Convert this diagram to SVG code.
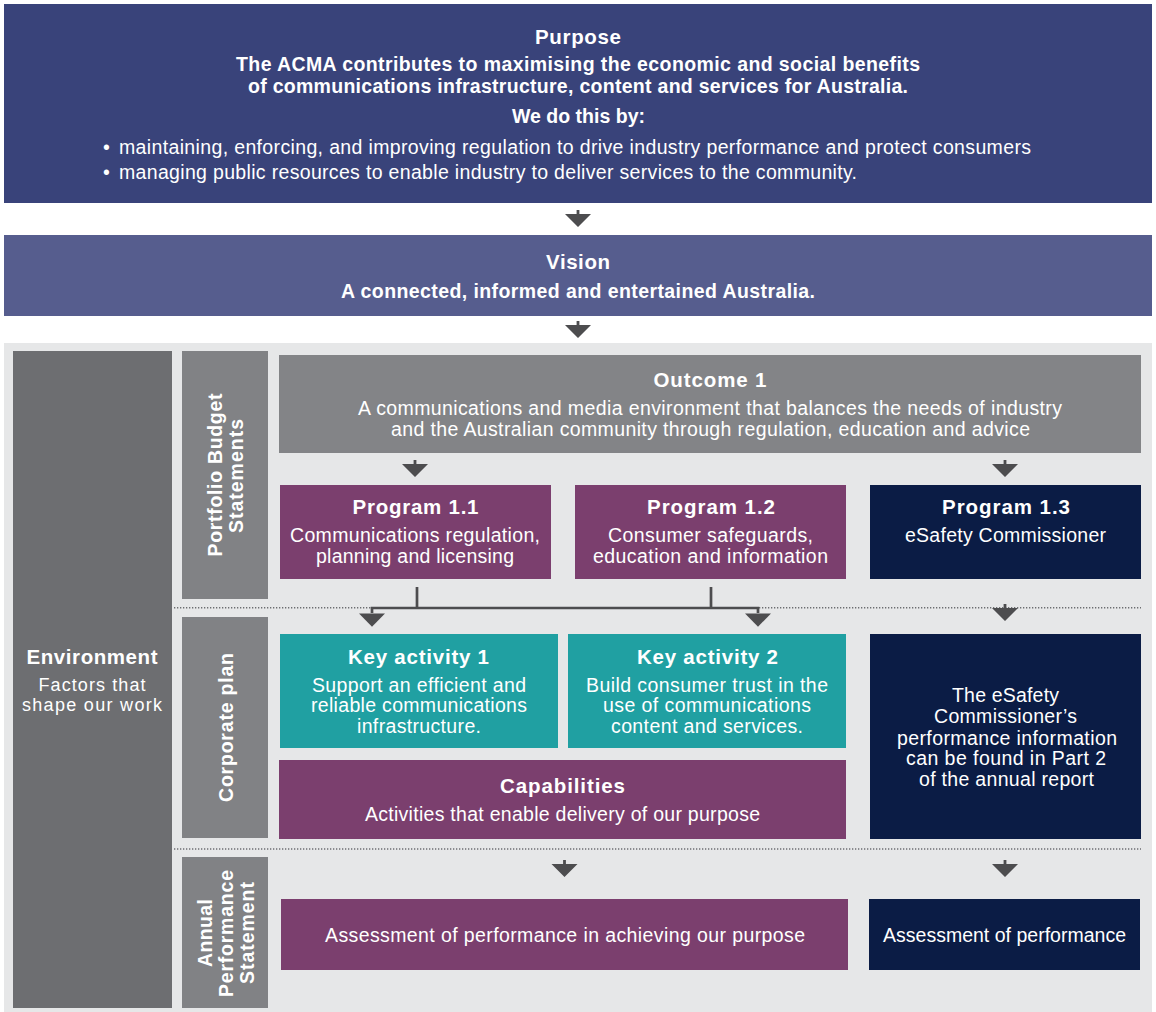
<svg xmlns="http://www.w3.org/2000/svg" width="1156" height="1012" viewBox="0 0 1156 1012">
<style>
text{font-family:"Liberation Sans",Arial,Helvetica,sans-serif;fill:#ffffff;text-anchor:middle;font-size:19.5px}
.b{font-weight:bold;font-size:19.5px}
.t{font-weight:bold;font-size:20.5px}
.l{font-weight:normal}
.s{text-anchor:start}
.dot{stroke:#6d6e71;stroke-width:1.4;stroke-dasharray:1.3 1.7;fill:none}
.ln{stroke:#4d4d4f;stroke-width:2.7;fill:none}
.ar{fill:#4d4d4f}
</style>
<defs>
<path id="arw" d="M-1.4,-17 h2.8 v4 h11.6 l-13,13 l-13,-13 h11.6 z"/>
</defs>
<rect x="0" y="0" width="1156" height="1012" fill="#ffffff"/>

<g id="purpose">
<rect x="4" y="4" width="1148" height="199" fill="#39437a"/>
<text class="t" x="578" y="44" textLength="86">Purpose</text>
<text class="b" x="578" y="71" textLength="684">The ACMA contributes to maximising the economic and social benefits</text>
<text class="b" x="578" y="93" textLength="660">of communications infrastructure, content and services for Australia.</text>
<text class="b" x="578.5" y="123" textLength="133">We do this by:</text>
<text class="l s" x="103" y="154">•</text>
<text class="l s" x="119" y="154" textLength="912">maintaining, enforcing, and improving regulation to drive industry performance and protect consumers</text>
<text class="l s" x="103" y="179">•</text>
<text class="l s" x="119" y="179" textLength="738">managing public resources to enable industry to deliver services to the community.</text>
</g>

<g id="vision">
<rect x="4" y="235" width="1148" height="81" fill="#565d8e"/>
<text class="t" x="578" y="269" textLength="64">Vision</text>
<text class="b" x="578" y="298" textLength="474">A connected, informed and entertained Australia.</text>
</g>

<g id="panel">
<rect x="4" y="343" width="1148" height="669" fill="#e6e7e8"/>
</g>

<g id="environment">
<rect x="13" y="351" width="159" height="657" fill="#6d6e71"/>
<text class="t" x="92" y="664" textLength="131">Environment</text>
<text class="l" style="font-size:18px" x="92" y="690.5" textLength="107">Factors that</text>
<text class="l" style="font-size:18px" x="92" y="710.5" textLength="140">shape our work</text>
</g>

<g id="portfolio-budget-statements">
<rect x="182" y="351" width="86" height="248" fill="#818285"/>
<text class="b" transform="translate(222,475) rotate(-90)" textLength="163">Portfolio Budget</text>
<text class="b" transform="translate(243,476) rotate(-90)" textLength="114">Statements</text>
</g>

<g id="corporate-plan">
<rect x="182" y="617" width="86" height="221" fill="#818285"/>
<text class="b" transform="translate(233,727.5) rotate(-90)" textLength="149">Corporate plan</text>
</g>

<g id="annual-performance-statement">
<rect x="182" y="857" width="86" height="151" fill="#818285"/>
<text class="b" transform="translate(212,933) rotate(-90)" textLength="68">Annual</text>
<text class="b" transform="translate(233,933.5) rotate(-90)" textLength="127">Performance</text>
<text class="b" transform="translate(254,933) rotate(-90)" textLength="102">Statement</text>
</g>

<g id="outcome-1">
<rect x="279" y="355" width="862" height="98" fill="#838487"/>
<text class="t" x="710" y="387" textLength="113">Outcome 1</text>
<text class="l" x="710" y="415" textLength="704">A communications and media environment that balances the needs of industry</text>
<text class="l" x="710.5" y="436" textLength="639">and the Australian community through regulation, education and advice</text>
</g>

<g id="program-1-1">
<rect x="280" y="485" width="271" height="94" fill="#7b3f6e"/>
<text class="t" x="415.5" y="514" textLength="126">Program 1.1</text>
<text class="l" x="415" y="542" textLength="250">Communications regulation,</text>
<text class="l" x="415" y="563" textLength="198">planning and licensing</text>
</g>

<g id="program-1-2">
<rect x="575" y="485" width="271" height="94" fill="#7b3f6e"/>
<text class="t" x="711" y="514" textLength="128">Program 1.2</text>
<text class="l" x="710.5" y="542" textLength="205">Consumer safeguards,</text>
<text class="l" x="710.5" y="563" textLength="235">education and information</text>
</g>

<g id="program-1-3">
<rect x="870" y="485" width="271" height="94" fill="#0b1c45"/>
<text class="t" x="1006" y="514" textLength="128">Program 1.3</text>
<text class="l" x="1005.5" y="542" textLength="201">eSafety Commissioner</text>
</g>

<g id="key-activity-1">
<rect x="280" y="634" width="278" height="114" fill="#20a0a2"/>
<text class="t" x="418.5" y="664" textLength="141">Key activity 1</text>
<text class="l" x="419" y="692" textLength="214">Support an efficient and</text>
<text class="l" x="419" y="712" textLength="216">reliable communications</text>
<text class="l" x="419" y="733" textLength="124">infrastructure.</text>
</g>

<g id="key-activity-2">
<rect x="568" y="634" width="278" height="114" fill="#20a0a2"/>
<text class="t" x="707.5" y="664" textLength="141">Key activity 2</text>
<text class="l" x="707" y="692" textLength="242">Build consumer trust in the</text>
<text class="l" x="707" y="712" textLength="208">use of communications</text>
<text class="l" x="707" y="733" textLength="192">content and services.</text>
</g>

<g id="capabilities">
<rect x="279" y="760" width="567" height="79" fill="#7b3f6e"/>
<text class="t" x="562.5" y="793" textLength="125">Capabilities</text>
<text class="l" x="562.5" y="821" textLength="395">Activities that enable delivery of our purpose</text>
</g>

<g id="esafety-info">
<rect x="870" y="634" width="271" height="205" fill="#0b1c45"/>
<text class="l" x="1005.5" y="702" textLength="107">The eSafety</text>
<text class="l" x="1005.5" y="723" textLength="143">Commissioner’s</text>
<text class="l" x="1007" y="745" textLength="220">performance information</text>
<text class="l" x="1006" y="765" textLength="200">can be found in Part 2</text>
<text class="l" x="1006.5" y="786" textLength="175">of the annual report</text>
</g>

<g id="assessment-purpose">
<rect x="281" y="899" width="567" height="71" fill="#7b3f6e"/>
<text class="l" x="565" y="942" textLength="480">Assessment of performance in achieving our purpose</text>
</g>

<g id="assessment-esafety">
<rect x="869" y="899" width="271" height="71" fill="#0b1c45"/>
<text class="l" x="1004.5" y="942" textLength="243">Assessment of performance</text>
</g>

<g id="connectors">
<line class="dot" x1="174" y1="607.7" x2="1141" y2="607.7"/>
<line class="dot" x1="174" y1="849" x2="1141" y2="849"/>
<path class="ln" d="M417,587 V608 M711,587 V608 M372,613 V608 H758 V613"/>
<use href="#arw" class="ar" x="578" y="227"/>
<use href="#arw" class="ar" x="578" y="338"/>
<use href="#arw" class="ar" x="415" y="477"/>
<use href="#arw" class="ar" x="1005" y="477"/>
<polygon class="ar" points="359,613.5 385,613.5 372,626.7"/>
<polygon class="ar" points="745,613.5 771,613.5 758,626.7"/>
<use href="#arw" class="ar" x="1005" y="621"/>
<use href="#arw" class="ar" x="564.5" y="877"/>
<use href="#arw" class="ar" x="1005" y="877"/>
</g>
</svg>
